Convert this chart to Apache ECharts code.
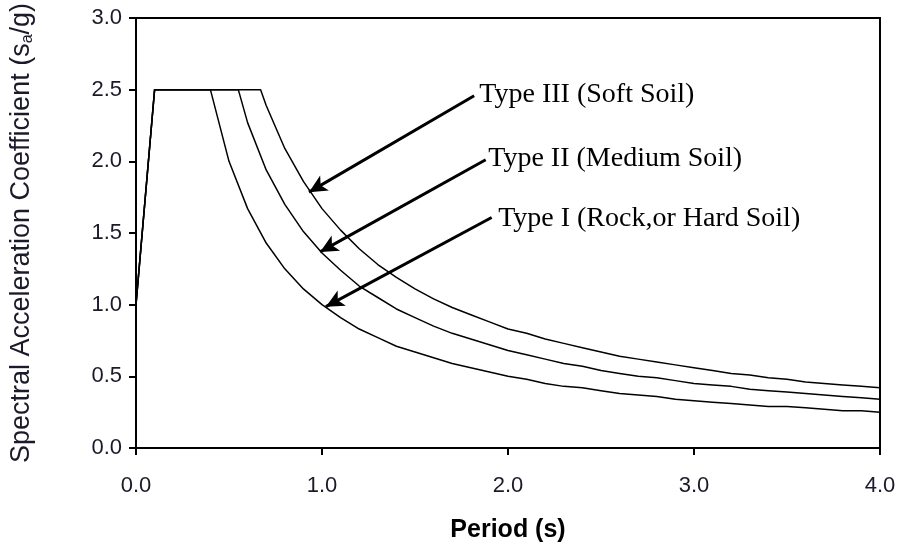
<!DOCTYPE html>
<html>
<head>
<meta charset="utf-8">
<script src="https://cdn.jsdelivr.net/npm/echarts@6/dist/echarts.min.js"></script>
<style>
html,body{margin:0;padding:0;background:#fff;}
#chart{width:900px;height:548px;}
</style>
</head>
<body>
<div id="chart"></div>
<script>
// ---- Data ----
var periodsI   = [0, 0.1, 0.4, 0.5, 0.6, 0.7, 0.8, 0.9, 1.0, 1.1, 1.2, 1.3, 1.4, 1.5, 1.6, 1.7, 1.8, 1.9, 2.0, 2.1, 2.2, 2.3, 2.4, 2.5, 2.6, 2.7, 2.8, 2.9, 3.0, 3.1, 3.2, 3.3, 3.4, 3.5, 3.6, 3.7, 3.8, 3.9, 4.0];
var saTypeI    = [1.0, 2.5, 2.5, 2.0, 1.67, 1.43, 1.25, 1.11, 1.0, 0.91, 0.83, 0.77, 0.71, 0.67, 0.63, 0.59, 0.56, 0.53, 0.5, 0.48, 0.45, 0.43, 0.42, 0.4, 0.38, 0.37, 0.36, 0.34, 0.33, 0.32, 0.31, 0.30, 0.29, 0.29, 0.28, 0.27, 0.26, 0.26, 0.25];

var periodsII  = [0, 0.1, 0.55, 0.6, 0.7, 0.8, 0.9, 1.0, 1.1, 1.2, 1.3, 1.4, 1.5, 1.6, 1.7, 1.8, 1.9, 2.0, 2.1, 2.2, 2.3, 2.4, 2.5, 2.6, 2.7, 2.8, 2.9, 3.0, 3.1, 3.2, 3.3, 3.4, 3.5, 3.6, 3.7, 3.8, 3.9, 4.0];
var saTypeII   = [1.0, 2.5, 2.5, 2.27, 1.94, 1.70, 1.51, 1.36, 1.24, 1.13, 1.05, 0.97, 0.91, 0.85, 0.80, 0.76, 0.72, 0.68, 0.65, 0.62, 0.59, 0.57, 0.54, 0.52, 0.50, 0.49, 0.47, 0.45, 0.44, 0.43, 0.41, 0.40, 0.39, 0.38, 0.37, 0.36, 0.35, 0.34];

var periodsIII = [0, 0.1, 0.67, 0.7, 0.8, 0.9, 1.0, 1.1, 1.2, 1.3, 1.4, 1.5, 1.6, 1.7, 1.8, 1.9, 2.0, 2.1, 2.2, 2.3, 2.4, 2.5, 2.6, 2.7, 2.8, 2.9, 3.0, 3.1, 3.2, 3.3, 3.4, 3.5, 3.6, 3.7, 3.8, 3.9, 4.0];
var saTypeIII  = [1.0, 2.5, 2.5, 2.39, 2.09, 1.86, 1.67, 1.52, 1.39, 1.28, 1.19, 1.11, 1.04, 0.98, 0.93, 0.88, 0.83, 0.80, 0.76, 0.73, 0.70, 0.67, 0.64, 0.62, 0.60, 0.58, 0.56, 0.54, 0.52, 0.51, 0.49, 0.48, 0.46, 0.45, 0.44, 0.43, 0.42];

var xTicks = [0, 1, 2, 3, 4];
var yTicks = [0, 0.5, 1.0, 1.5, 2.0, 2.5, 3.0];

// annotation texts and their anchor points (data coords)
var annoLabels = ['Type III (Soft Soil)', 'Type II (Medium Soil)', 'Type I (Rock,or Hard Soil)'];
var annoTextAt = [[1.846, 2.465], [1.894, 2.021], [1.947, 1.597]];
var arrowFrom  = [[1.818, 2.458], [1.880, 2.011], [1.912, 1.608]];
var arrowTo    = [[0.930, 1.785], [0.990, 1.368], [1.021, 0.986]];

function pairs(xs, ys){ return xs.map(function(x,i){ return [x, ys[i]]; }); }

var chart = echarts.init(document.getElementById('chart'), null, {renderer:'canvas'});

var lineStyle = {color:'#000', width:1.5};
var sans = '"Liberation Sans", Arial, sans-serif';
var serif = '"Liberation Serif", "Times New Roman", serif';

var option = {
  animation: false,
  backgroundColor: '#fff',
  grid: {left:132, right:20, top:18, bottom:98, show:true, borderColor:'#000', borderWidth:2, backgroundColor:'transparent'},
  xAxis: {
    type:'value', min:0, max:4, interval:1,
    axisLine:{show:true, lineStyle:{color:'#000', width:2}},
    axisTick:{show:true, inside:false, length:7, lineStyle:{color:'#000', width:2}},
    axisLabel:{color:'#1a1a2a', fontFamily:sans, fontSize:22, margin:27,
      formatter:function(v){ return xTicks.indexOf(v) >= 0 ? v.toFixed(1) : ''; }},
    splitLine:{show:false},
    name:'Period (s)', nameLocation:'middle', nameGap:70,
    nameTextStyle:{color:'#000', fontFamily:sans, fontSize:25, fontWeight:'bold'}
  },
  yAxis: {
    type:'value', min:0, max:3, interval:0.5,
    axisLine:{show:true, lineStyle:{color:'#000', width:2}},
    axisTick:{show:true, inside:false, length:7, lineStyle:{color:'#000', width:2}},
    axisLabel:{color:'#1a1a2a', fontFamily:sans, fontSize:22, margin:14,
      formatter:function(v){ return yTicks.indexOf(v) >= 0 ? v.toFixed(1) : ''; }},
    splitLine:{show:false},
    name:'{n|Spectral Acceleration Coefficient (s}{s|a}{n|/g)}',
    nameLocation:'middle', nameGap:100, nameRotate:90,
    nameTextStyle:{
      rich:{
        n:{fontFamily:sans, fontSize:27, color:'#1a1a2a'},
        s:{fontFamily:sans, fontSize:16, color:'#1a1a2a', verticalAlign:'bottom', padding:[13,0,0,0]}
      }
    }
  },
  series: [
    {type:'line', name:'Type I', data:pairs(periodsI, saTypeI), showSymbol:false, symbol:'none', lineStyle:lineStyle, z:3,
      markLine:{
        silent:true, symbol:['none','arrow'], symbolSize:[13,18],
        lineStyle:{color:'#000', width:3, type:'solid'},
        label:{show:false},
        data: arrowFrom.map(function(p,i){ return [{coord:p},{coord:arrowTo[i]}]; })
      },
      markPoint:{
        silent:true, symbol:'circle', symbolSize:0,
        label:{show:true, position:'right', distance:0, color:'#000', fontFamily:serif, fontSize:28,
          formatter:function(p){ return p.name; }},
        data: annoLabels.map(function(t,i){ return {name:t, coord:annoTextAt[i]}; })
      }
    },
    {type:'line', name:'Type II', data:pairs(periodsII, saTypeII), showSymbol:false, symbol:'none', lineStyle:lineStyle, z:3},
    {type:'line', name:'Type III', data:pairs(periodsIII, saTypeIII), showSymbol:false, symbol:'none', lineStyle:lineStyle, z:3}
  ]
};
chart.setOption(option);
</script>
</body>
</html>
